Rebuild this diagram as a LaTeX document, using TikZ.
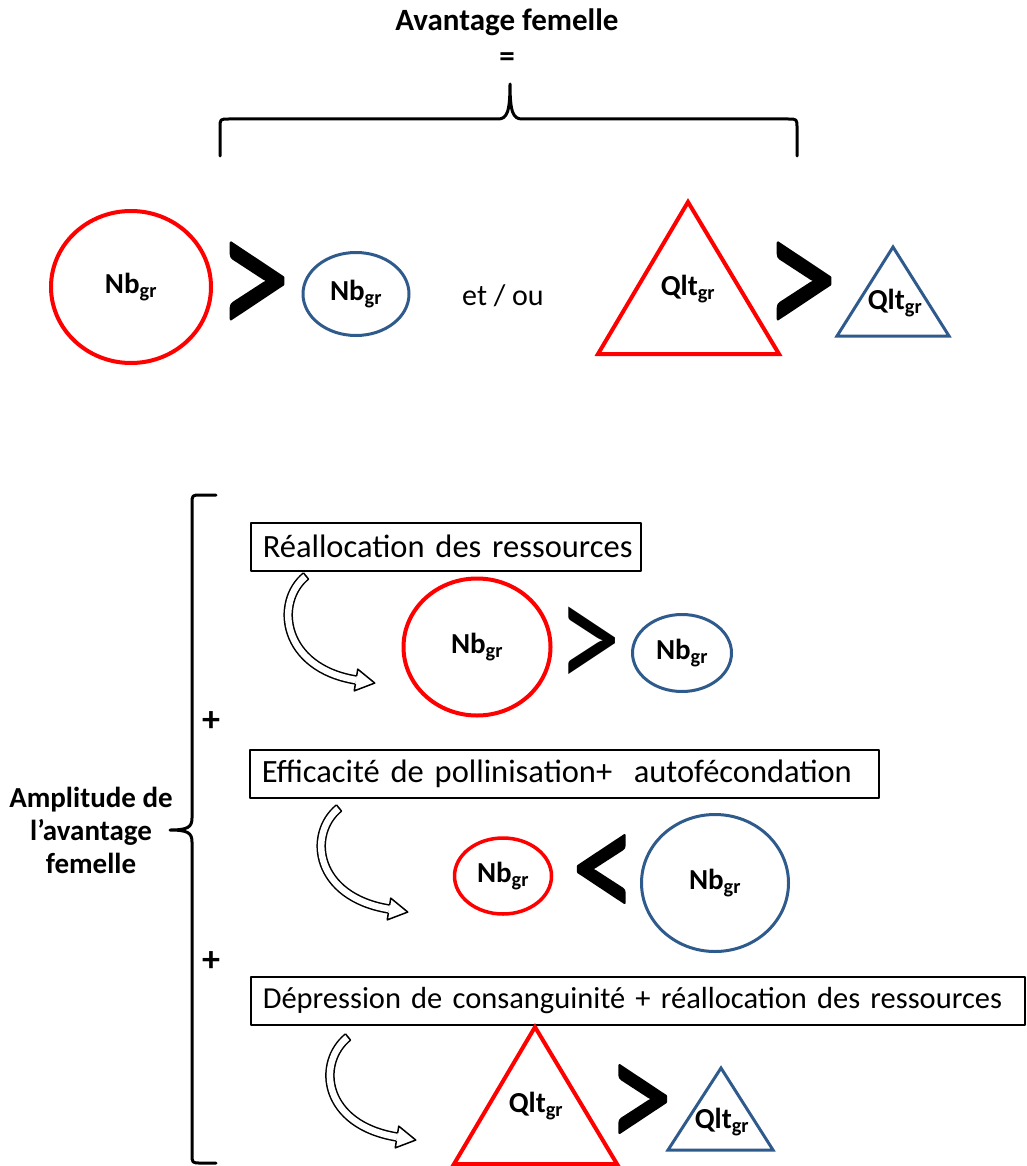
\documentclass[tikz,border=0pt]{standalone}
\usepackage{fontspec}
\usepackage{graphicx}
\setmainfont{Carlito}
\newfontface\cmpfont{Carlito}[FakeBold=1.6]
\usetikzlibrary{calc,shapes.geometric}
\definecolor{avRed}{HTML}{FF0000}
\definecolor{avBlue}{HTML}{2F5B8C}
\tikzset{
 avfig/.style={x=1pt,y=-1pt,line join=round},
 redring/.style={ellipse,draw=avRed,line width=4pt,inner sep=0pt,font=\fontsize{29}{30}\selectfont\bfseries},
 bluering/.style={ellipse,draw=avBlue,line width=3pt,inner sep=0pt,font=\fontsize{29}{30}\selectfont\bfseries},
 redtri/.style={draw=avRed,line width=4pt,line join=miter},
 bluetri/.style={draw=avBlue,line width=3pt,line join=miter},
 tag/.style={font=\fontsize{29}{30}\selectfont\bfseries,inner sep=0pt},
 cmp/.style={font=\fontsize{160}{160}\selectfont,inner sep=0pt},
 plain/.style={font=\fontsize{30}{32}\selectfont,inner sep=0pt},
 headline/.style={font=\fontsize{31}{33}\selectfont\bfseries,inner sep=0pt,align=center},
 stepbox/.style={draw=black,line width=1.5pt,anchor=north west,minimum height=48pt,
   inner xsep=12pt,inner ysep=0pt,align=left,font=\fontsize{32.5}{34}\selectfont},
 brace/.style={draw=black,line width=3pt,line cap=round},
 tube/.style={draw=black,line width=1.5pt,double=white,double distance=6.5pt},
 tubecap/.style={draw=black,line width=1.5pt,fill=white}
}
\newcommand{\nbgr}{Nb\textsubscript{gr}}
\newcommand{\qltgr}{Qlt\textsubscript{gr}}
\newcommand{\bigcmp}[1]{\scalebox{0.9}[1.15]{\cmpfont #1}}
\newcommand{\midcmp}[1]{\scalebox{0.8}[1.02]{#1}}
% hollow bent arrow from tail #1 to head base #2
\newcommand{\bentArrow}[2]{%
 \coordinate (#1k) at ($(#1)+(-32,26)$);
 \coordinate (#2k) at ($(#2)+(-74,-12)$);
 \draw[tube] (#1) .. controls (#1k) and (#2k) .. (#2);
 \draw[tubecap] ($(#1)!4pt!90:(#1k)$) -- ($(#1)!4pt!-90:(#1k)$);
 \filldraw[tubecap] ($(#2)!4pt!90:(#2k)$) -- ($(#2)!11pt!90:(#2k)$) -- ($(#2)!-19pt!(#2k)$)
   -- ($(#2)!11pt!-90:(#2k)$) -- ($(#2)!4pt!-90:(#2k)$);}

\begin{document}
\begin{tikzpicture}[avfig]
 \useasboundingbox (0,0) rectangle (1026,1166);
 % top : avantage femelle
 \node[headline] (title) at (507,22) {Avantage femelle};
 \node[headline] (equal) at (507,60) {=};
 \draw[brace] (220,156) -- (220,128) .. controls (220,119) .. (229,119) -- (498,119)
   .. controls (507,119) and (510,112) .. (510,84) .. controls (510,112) and (513,119) .. (522,119)
   -- (788,119) .. controls (797,119) .. (797,128) -- (797,156);
 \node[redring,minimum width=160pt,minimum height=152pt] (rA) at (131,287) {\nbgr};
 \node[cmp] (gtA) at (254,291) {\bigcmp{>}};
 \node[bluering,minimum width=106pt,minimum height=83pt] (bA) at (356,294) {\nbgr};
 \node[plain] (etou) at (503,296) {et / ou};
 \draw[redtri] (598,354) -- (688,202) -- (779,354) -- cycle;
 \node[tag] (qA) at (688,289) {\qltgr};
 \node[cmp] (gtB) at (801,291) {\bigcmp{>}};
 \draw[bluetri] (837,336) -- (893,247) -- (949,336) -- cycle;
 \node[tag] (qB) at (895,303) {\qltgr};
 % bottom : amplitude
 \draw[brace] (216,495) -- (201,495) .. controls (192,495) .. (192,504) -- (192,818)
   .. controls (192,827) and (188,830) .. (170,830) .. controls (188,830) and (192,833) .. (192,842)
   -- (192,1154) .. controls (192,1163) .. (201,1163) -- (216,1163);
 \node[headline,font=\fontsize{29}{33}\selectfont\bfseries] (ampl) at (91,830) {Amplitude de\\l’avantage\\femelle};
 \node[tag,font=\fontsize{36}{36}\selectfont\bfseries] (plus1) at (211,722) {+};
 \node[tag,font=\fontsize{36}{36}\selectfont\bfseries] (plus2) at (211,962) {+};
 \node[stepbox,text width=366pt] (box1) at (250,522) {\mbox{Réallocation des ressources}};
 \node[stepbox,text width=605pt] (box2) at (249,749) {\mbox{Efficacité de pollinisation+\ \ autofécondation}};
 \node[stepbox,text width=750pt,font=\fontsize{30.5}{34}\selectfont] (box3) at (250,976) {\mbox{Dépression de consanguinité + réallocation des ressources}};
 % row 1
 \coordinate (a1s) at (306,576); \coordinate (a1e) at (356,680);
 \bentArrow{a1s}{a1e}
 \node[redring,minimum width=147pt,minimum height=137pt] (r1) at (477,647) {\nbgr};
 \node[cmp] (gt1) at (589,650) {\midcmp{>}};
 \node[bluering,minimum width=99pt,minimum height=77pt] (b1) at (682,653) {\nbgr};
 % row 2
 \coordinate (a2s) at (339,808); \coordinate (a2e) at (389,909);
 \bentArrow{a2s}{a2e}
 \node[redring,line width=3.5pt,minimum width=97pt,minimum height=76pt] (r2) at (503,876) {\nbgr};
 \node[cmp] (lt2) at (604,878) {\midcmp{\cmpfont <}};
 \node[bluering,minimum width=147pt,minimum height=137pt] (b2) at (715,883) {\nbgr};
 % row 3
 \coordinate (a3s) at (348,1037); \coordinate (a3e) at (397,1137);
 \bentArrow{a3s}{a3e}
 \draw[redtri] (454,1164) -- (535,1027) -- (617,1164) -- cycle;
 \node[tag] (q3) at (536,1106) {\qltgr};
 \node[cmp] (gt3) at (640,1108) {\midcmp{\cmpfont >}};
 \draw[bluetri] (668,1150) -- (721,1068) -- (773,1150) -- cycle;
 \node[tag] (q4) at (722,1122) {\qltgr};
\end{tikzpicture}
\end{document}
